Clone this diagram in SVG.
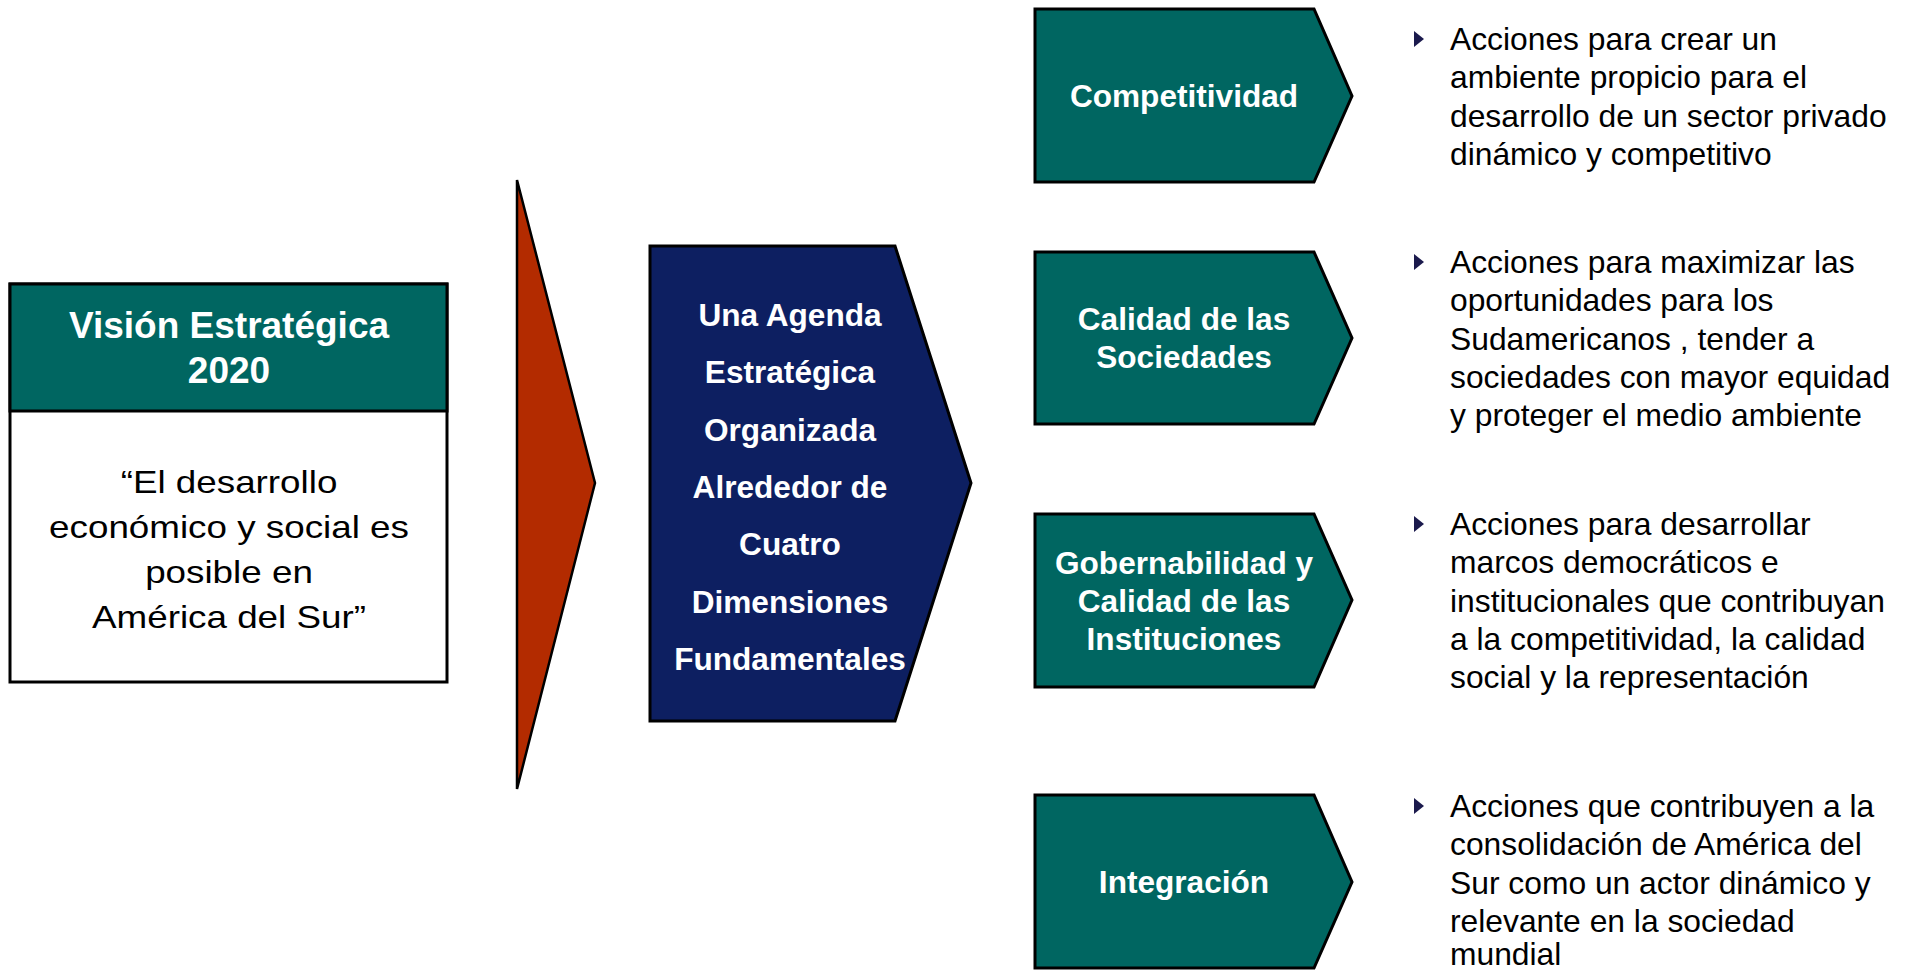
<svg xmlns="http://www.w3.org/2000/svg" width="1917" height="971" viewBox="0 0 1917 971">
<style>
.teal{fill:#006661;stroke:#000;stroke-width:3}
.navy{fill:#0d1f61;stroke:#000;stroke-width:3}
.red{fill:#b32b00;stroke:#000;stroke-width:2.5}
.wb{font-family:"Liberation Sans",Arial,sans-serif;font-weight:bold;fill:#fff;text-anchor:middle}
.bt{font-family:"Liberation Sans",Arial,sans-serif;fill:#000;font-size:31.8px}
.bul{fill:#1b1a4d}
</style>
<defs>
<polygon id="bullet" points="0,-8 10,0 0,8" class="bul"/>
</defs>
<rect width="1917" height="971" fill="#fff"/>

<g id="vision">
<rect x="10" y="284" width="437" height="398" fill="#fff" stroke="#000" stroke-width="3"/>
<rect x="10" y="284" width="437" height="127" class="teal"/>
<text class="wb" font-size="37"><tspan x="229" y="338">Visión Estratégica</tspan><tspan x="229" y="383">2020</tspan></text>
<g transform="translate(229,0) scale(1.15,1)">
<text font-family="'Liberation Sans',Arial,sans-serif" font-size="32" fill="#000" text-anchor="middle"><tspan x="0" y="493">“El desarrollo</tspan><tspan x="0" y="538">económico y social es</tspan><tspan x="0" y="583">posible en</tspan><tspan x="0" y="628">América del Sur”</tspan></text>
</g>
</g>

<g id="connectors">
<polygon class="red" points="517,180 595,483 517,789"/>
</g>

<g id="agenda">
<polygon class="navy" points="650,246 895,246 971,483 895,721 650,721"/>
<text class="wb" font-size="31.6"><tspan x="790" y="326">Una Agenda</tspan><tspan x="790" y="383.3">Estratégica</tspan><tspan x="790" y="440.6">Organizada</tspan><tspan x="790" y="497.9">Alrededor de</tspan><tspan x="790" y="555.2">Cuatro</tspan><tspan x="790" y="612.5">Dimensiones</tspan><tspan x="790" y="669.8">Fundamentales</tspan></text>
</g>

<g id="competitividad">
<polygon class="teal" points="1035,9 1314,9 1352,96 1314,182 1035,182"/>
<text class="wb" font-size="31.6"><tspan x="1184" y="107">Competitividad</tspan></text>
</g>
<g id="calidad-sociedades">
<polygon class="teal" points="1035,252 1314,252 1352,338 1314,424 1035,424"/>
<text class="wb" font-size="31.6"><tspan x="1184" y="330">Calidad de las</tspan><tspan x="1184" y="368">Sociedades</tspan></text>
</g>
<g id="gobernabilidad">
<polygon class="teal" points="1035,514 1314,514 1352,600 1314,687 1035,687"/>
<text class="wb" font-size="31.6"><tspan x="1184" y="574">Gobernabilidad y</tspan><tspan x="1184" y="612">Calidad de las</tspan><tspan x="1184" y="650">Instituciones</tspan></text>
</g>
<g id="integracion">
<polygon class="teal" points="1035,795 1314,795 1352,882 1314,968 1035,968"/>
<text class="wb" font-size="31.6"><tspan x="1184" y="893">Integración</tspan></text>
</g>

<g id="desc-competitividad">
<use href="#bullet" x="1414" y="39"/>
<text class="bt"><tspan x="1450" y="50">Acciones para crear un</tspan><tspan x="1450" y="88.3">ambiente propicio para el</tspan><tspan x="1450" y="126.6">desarrollo de un sector privado</tspan><tspan x="1450" y="164.9">dinámico y competitivo</tspan></text>
</g>
<g id="desc-sociedades">
<use href="#bullet" x="1414" y="262"/>
<text class="bt"><tspan x="1450" y="273">Acciones para maximizar las</tspan><tspan x="1450" y="311.3">oportunidades para los</tspan><tspan x="1450" y="349.6">Sudamericanos , tender a</tspan><tspan x="1450" y="387.9">sociedades con mayor equidad</tspan><tspan x="1450" y="426.2">y proteger el medio ambiente</tspan></text>
</g>
<g id="desc-gobernabilidad">
<use href="#bullet" x="1414" y="524"/>
<text class="bt"><tspan x="1450" y="535">Acciones para desarrollar</tspan><tspan x="1450" y="573.3">marcos democráticos e</tspan><tspan x="1450" y="611.6">institucionales que contribuyan</tspan><tspan x="1450" y="649.9">a la competitividad, la calidad</tspan><tspan x="1450" y="688.2">social y la representación</tspan></text>
</g>
<g id="desc-integracion">
<use href="#bullet" x="1414" y="806"/>
<text class="bt"><tspan x="1450" y="817">Acciones que contribuyen a la</tspan><tspan x="1450" y="855.3">consolidación de América del</tspan><tspan x="1450" y="893.6">Sur como un actor dinámico y</tspan><tspan x="1450" y="931.9">relevante en la sociedad</tspan><tspan x="1450" y="965">mundial</tspan></text>
</g>
</svg>
